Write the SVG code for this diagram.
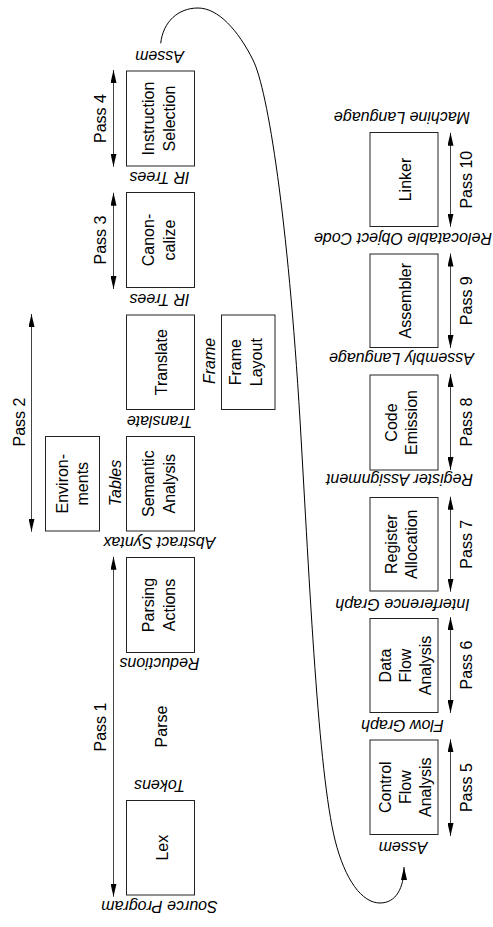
<svg xmlns="http://www.w3.org/2000/svg" width="493" height="927" viewBox="0 0 493 927">
<style>
.box{fill:#fff;stroke:#222;stroke-width:1}
text{font-family:"Liberation Sans",Arial,Helvetica,sans-serif;font-size:16px;fill:#000;text-anchor:middle}
.it{font-style:italic}
.ln{stroke:#444;stroke-width:1;fill:none}
.cv{stroke:#000;stroke-width:1;fill:none}
</style>
<defs>
<marker id="ah" viewBox="0 0 13 6" refX="13" refY="3" markerWidth="13" markerHeight="6" markerUnits="userSpaceOnUse" orient="auto-start-reverse">
<path d="M0,0 L13,3 L0,6 z" fill="#000"/>
</marker>
</defs>
<rect width="493" height="927" fill="#fff"/>

<g id="connectors">
<line class="ln" x1="113.5" y1="70" x2="113.5" y2="166.7" marker-start="url(#ah)" marker-end="url(#ah)"/>
<line class="ln" x1="113.5" y1="192.7" x2="113.5" y2="289" marker-start="url(#ah)" marker-end="url(#ah)"/>
<line class="ln" x1="31.5" y1="314" x2="31.5" y2="531.7" marker-start="url(#ah)" marker-end="url(#ah)"/>
<line class="ln" x1="113.5" y1="556.7" x2="113.5" y2="896.7" marker-start="url(#ah)" marker-end="url(#ah)"/>
<line class="ln" x1="450.5" y1="132.7" x2="450.5" y2="226.7" marker-start="url(#ah)" marker-end="url(#ah)"/>
<line class="ln" x1="450.5" y1="253.5" x2="450.5" y2="348" marker-start="url(#ah)" marker-end="url(#ah)"/>
<line class="ln" x1="450.5" y1="374" x2="450.5" y2="470" marker-start="url(#ah)" marker-end="url(#ah)"/>
<line class="ln" x1="450.5" y1="496.7" x2="450.5" y2="591.7" marker-start="url(#ah)" marker-end="url(#ah)"/>
<line class="ln" x1="450.5" y1="617" x2="450.5" y2="713" marker-start="url(#ah)" marker-end="url(#ah)"/>
<line class="ln" x1="450.5" y1="739.3" x2="450.5" y2="836" marker-start="url(#ah)" marker-end="url(#ah)"/>
<path class="cv" d="M160.7,43.3 C163,22 178,8 198,8 C218,8 238,30 253,60 C268,90 288,220 300,420 C310,590 318,770 335,840 C345,880 362,903 380,903 C396,903 404,888 404,867" marker-end="url(#ah)"/>
</g>

<g id="pass-labels">
<text transform="translate(100.7,118.5) rotate(-90)" dy=".35em">Pass 4</text>
<text transform="translate(100.7,240) rotate(-90)" dy=".35em">Pass 3</text>
<text transform="translate(19,422) rotate(-90)" dy=".35em">Pass 2</text>
<text transform="translate(100.7,727) rotate(-90)" dy=".35em">Pass 1</text>
<text transform="translate(466.7,179.7) rotate(-90)" dy=".35em">Pass 10</text>
<text transform="translate(466.7,300.7) rotate(-90)" dy=".35em">Pass 9</text>
<text transform="translate(466.7,422) rotate(-90)" dy=".35em">Pass 8</text>
<text transform="translate(466.7,544.2) rotate(-90)" dy=".35em">Pass 7</text>
<text transform="translate(466.7,665) rotate(-90)" dy=".35em">Pass 6</text>
<text transform="translate(466.7,787.6) rotate(-90)" dy=".35em">Pass 5</text>
<text transform="translate(161.7,726.5) rotate(-90)" dy=".35em">Parse</text>
<text class="it" transform="translate(209.5,361) rotate(-90)" dy=".35em">Frame</text>
<text class="it" transform="translate(115,483) rotate(-90)" dy=".35em">Tables</text>
</g>

<g id="edge-labels" class="it">
<text class="it" transform="translate(159.5,56.5) rotate(180)" dy=".35em">Assem</text>
<text class="it" transform="translate(159.5,177.5) rotate(180)" dy=".35em">IR Trees</text>
<text class="it" transform="translate(159.5,300) rotate(180)" dy=".35em">IR Trees</text>
<text class="it" transform="translate(159.5,421.5) rotate(180)" dy=".35em">Translate</text>
<text class="it" transform="translate(159.5,542.5) rotate(180)" dy=".35em">Abstract Syntax</text>
<text class="it" transform="translate(159.5,664) rotate(180)" dy=".35em">Reductions</text>
<text class="it" transform="translate(159.5,786) rotate(180)" dy=".35em">Tokens</text>
<text class="it" transform="translate(159.5,907) rotate(180)" dy=".35em">Source Program</text>
<text class="it" transform="translate(402,117.5) rotate(180)" dy=".35em">Machine Language</text>
<text class="it" transform="translate(403,238.5) rotate(180)" dy=".35em">Relocatable Object Code</text>
<text class="it" transform="translate(401.5,358.5) rotate(180)" dy=".35em">Assembly Language</text>
<text class="it" transform="translate(399.5,479.5) rotate(180)" dy=".35em">Register Assignment</text>
<text class="it" transform="translate(402.5,604.5) rotate(180)" dy=".35em">Interference Graph</text>
<text class="it" transform="translate(402.5,725.5) rotate(180)" dy=".35em">Flow Graph</text>
<text class="it" transform="translate(403,847.5) rotate(180)" dy=".35em">Assem</text>
</g>

<g id="instruction-selection">
<rect class="box" x="126.5" y="71" width="68" height="95"/>
<text transform="translate(148.3,118.5) rotate(-90)" dy=".35em">Instruction</text>
<text transform="translate(169.3,118.5) rotate(-90)" dy=".35em">Selection</text>
</g>
<g id="canonicalize">
<rect class="box" x="126.5" y="192.5" width="68" height="95"/>
<text transform="translate(148.3,240) rotate(-90)" dy=".35em">Canon-</text>
<text transform="translate(169.3,240) rotate(-90)" dy=".35em">calize</text>
</g>
<g id="translate">
<rect class="box" x="126.5" y="315" width="68" height="94.5"/>
<text transform="translate(161.7,362.2) rotate(-90)" dy=".35em">Translate</text>
</g>
<g id="frame-layout">
<rect class="box" x="221.5" y="315" width="53.5" height="94.5"/>
<text transform="translate(235,362.2) rotate(-90)" dy=".35em">Frame</text>
<text transform="translate(256.5,362.2) rotate(-90)" dy=".35em">Layout</text>
</g>
<g id="environments">
<rect class="box" x="45.5" y="436.5" width="54" height="94.5"/>
<text transform="translate(62,483.7) rotate(-90)" dy=".35em">Environ-</text>
<text transform="translate(82.5,483.7) rotate(-90)" dy=".35em">ments</text>
</g>
<g id="semantic-analysis">
<rect class="box" x="126.5" y="436.5" width="68" height="94.5"/>
<text transform="translate(148.3,483.7) rotate(-90)" dy=".35em">Semantic</text>
<text transform="translate(169.3,483.7) rotate(-90)" dy=".35em">Analysis</text>
</g>
<g id="parsing-actions">
<rect class="box" x="126.5" y="557.5" width="68" height="95"/>
<text transform="translate(148.3,605) rotate(-90)" dy=".35em">Parsing</text>
<text transform="translate(169.3,605) rotate(-90)" dy=".35em">Actions</text>
</g>
<g id="lex">
<rect class="box" x="126.5" y="800.5" width="68" height="94.5"/>
<text transform="translate(162,847.7) rotate(-90)" dy=".35em">Lex</text>
</g>

<g id="linker">
<rect class="box" x="370" y="132.5" width="68" height="94"/>
<text transform="translate(405,179.5) rotate(-90)" dy=".35em">Linker</text>
</g>
<g id="assembler">
<rect class="box" x="370" y="254" width="68" height="93.5"/>
<text transform="translate(405,300.7) rotate(-90)" dy=".35em">Assembler</text>
</g>
<g id="code-emission">
<rect class="box" x="370" y="375" width="68" height="95"/>
<text transform="translate(391.7,422.5) rotate(-90)" dy=".35em">Code</text>
<text transform="translate(411.7,422.5) rotate(-90)" dy=".35em">Emission</text>
</g>
<g id="register-allocation">
<rect class="box" x="370" y="497.5" width="68" height="93.5"/>
<text transform="translate(391.7,544.2) rotate(-90)" dy=".35em">Register</text>
<text transform="translate(411.7,544.2) rotate(-90)" dy=".35em">Allocation</text>
</g>
<g id="data-flow-analysis">
<rect class="box" x="370" y="618.5" width="68" height="94"/>
<text transform="translate(385,665.5) rotate(-90)" dy=".35em">Data</text>
<text transform="translate(405.5,665.5) rotate(-90)" dy=".35em">Flow</text>
<text transform="translate(425.7,665.5) rotate(-90)" dy=".35em">Analysis</text>
</g>
<g id="control-flow-analysis">
<rect class="box" x="370" y="740" width="68" height="94.5"/>
<text transform="translate(385,787.2) rotate(-90)" dy=".35em">Control</text>
<text transform="translate(405.5,787.2) rotate(-90)" dy=".35em">Flow</text>
<text transform="translate(425.7,787.2) rotate(-90)" dy=".35em">Analysis</text>
</g>
</svg>
